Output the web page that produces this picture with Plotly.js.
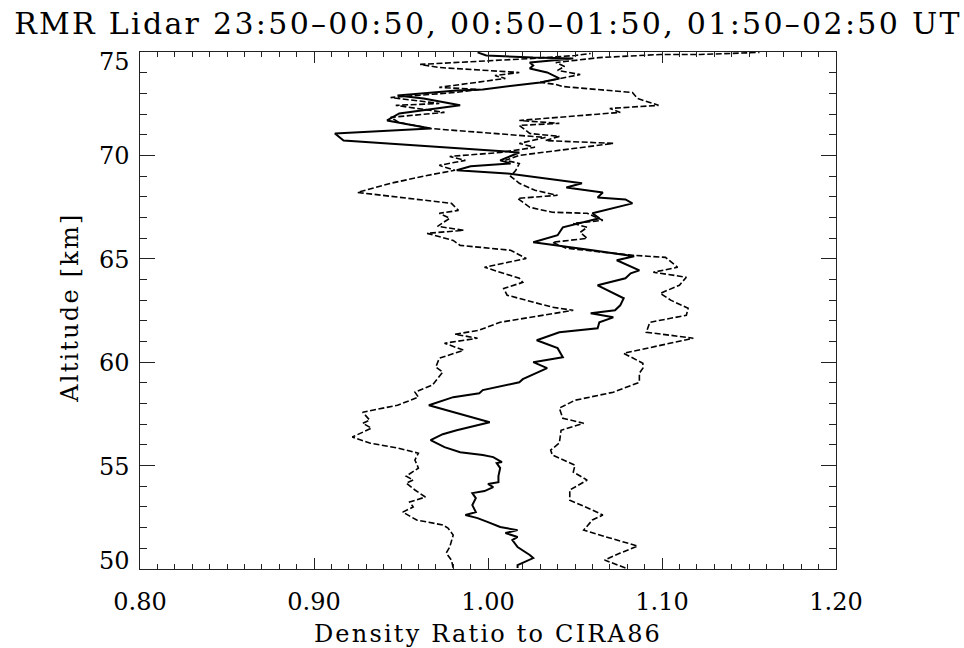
<!DOCTYPE html>
<html>
<head>
<meta charset="utf-8">
<script src="https://cdn.plot.ly/plotly-3.0.1.min.js"></script>
<style>
html,body{margin:0;padding:0;background:#fff;}
.gtitle{letter-spacing:2.3px;}
.xtitle{letter-spacing:2.2px;}
.annotation[data-index="0"] .annotation-text{letter-spacing:2.2px;}
</style>
</head>
<body>
<div id="chart" style="width:964px;height:648px;"></div>
<script>
// Left dashed profile
var valL = [0.980,0.979,0.976,0.978,0.980,0.977,0.974,0.959,0.951,0.957,0.955,0.964,0.958,0.953,0.957,0.953,0.960,0.958,0.960,0.948,0.932,0.922,0.933,0.928,0.932,0.928,0.948,0.955,0.960,0.958,0.968,0.974,0.970,0.972,0.986,0.975,0.994,0.981,0.995,1.007,1.024,1.049,1.037,1.011,1.009,1.020,1.018,0.998,1.022,1.013,0.984,0.980,0.965,0.986,0.971,0.978,0.972,0.983,0.979,0.925,0.944,0.965,0.981,0.972,0.987,0.978,1.007,1.027,1.018,1.033,0.967,0.949,0.944,0.975,0.947,0.972,0.944,0.981,0.995,0.972,1.010,1.004,1.018,0.972,0.961,0.984,1.026,1.050,1.059];
var altL = [50.05,50.43,50.77,51.06,51.64,51.98,52.13,52.37,52.75,53.00,53.24,53.48,53.82,54.15,54.30,54.49,54.88,55.27,55.60,55.85,56.09,56.38,56.81,57.05,57.20,57.58,57.92,58.16,58.31,58.55,58.89,59.52,59.76,60.19,60.58,60.92,61.16,61.35,61.55,61.93,62.17,62.51,62.66,63.24,63.57,63.86,64.06,64.59,65.02,65.41,65.65,65.89,66.23,66.38,66.57,66.96,67.20,67.34,67.68,68.21,68.65,69.03,69.28,69.52,69.76,69.95,70.14,70.39,70.58,70.87,71.30,71.59,71.84,72.08,72.42,72.51,72.80,73.04,73.19,73.29,73.72,73.86,74.01,74.25,74.40,74.49,74.69,74.83,74.93];

// Solid (middle) profile
var valS = [1.017,1.017,1.026,1.024,1.017,1.014,1.017,1.010,1.017,1.007,1.000,0.994,0.987,0.993,0.991,0.993,0.991,0.998,1.003,1.000,1.006,1.006,1.007,1.005,1.008,1.003,0.997,0.984,0.975,0.967,0.974,0.982,1.001,0.966,0.980,0.995,0.997,1.018,1.020,1.034,1.026,1.043,1.040,1.028,1.041,1.063,1.064,1.072,1.059,1.073,1.076,1.078,1.063,1.079,1.082,1.087,1.074,1.084,1.060,1.026,1.040,1.043,1.064,1.060,1.083,1.079,1.063,1.066,1.045,1.054,1.011,0.982,0.990,1.013,1.007,1.018,0.917,0.912,0.967,0.942,0.949,0.984,0.963,0.948,0.982,0.997,1.030,1.041,1.034,1.024,1.026,1.024,1.049,1.026,0.999,0.994];
var altS = [50.05,50.19,50.53,50.68,51.06,51.40,51.55,51.74,51.88,52.03,52.27,52.46,52.61,52.75,53.09,53.43,53.67,53.77,53.96,54.11,54.20,54.49,54.88,55.12,55.17,55.41,55.51,55.65,55.89,56.23,56.52,56.71,57.10,57.92,58.31,58.50,58.65,59.03,59.18,59.71,60.00,60.24,60.68,61.06,61.45,61.64,61.93,62.17,62.37,62.51,62.75,63.09,63.72,64.06,64.30,64.44,64.93,65.12,65.41,65.80,66.14,66.52,66.96,67.20,67.68,67.87,67.97,68.21,68.45,68.65,69.13,69.28,69.47,69.61,69.76,70.14,70.72,71.06,71.30,71.69,72.03,72.42,72.75,72.90,73.14,73.19,73.53,73.72,74.01,74.20,74.35,74.49,74.69,74.73,74.83,74.98];

// Right dashed profile
var valR = [1.079,1.067,1.076,1.086,1.070,1.055,1.060,1.066,1.060,1.047,1.047,1.057,1.049,1.050,1.037,1.036,1.041,1.042,1.055,1.043,1.041,1.050,1.072,1.087,1.087,1.089,1.089,1.078,1.118,1.091,1.093,1.114,1.115,1.105,1.099,1.110,1.114,1.095,1.109,1.102,1.083,1.045,1.037,1.057,1.053,1.057,1.049,1.066,1.057,1.037,1.024,1.017,1.040,1.027,1.018,1.013,1.016,1.018,1.010,1.018,1.072,1.033,1.041,1.024,1.018,1.041,1.018,1.076,1.070,1.098,1.086,1.083,1.043,1.039,1.030,1.041,1.053,1.040,1.044,1.039,1.064,1.099,1.122,1.156];
var altR = [50.05,50.43,50.77,51.11,51.50,51.88,52.37,52.61,52.85,53.33,53.82,54.30,54.69,55.02,55.51,55.75,56.09,56.71,57.05,57.29,57.78,58.16,58.55,59.03,59.47,59.71,59.95,60.43,61.16,61.45,61.93,62.27,62.61,63.00,63.33,63.72,64.11,64.35,64.59,65.07,65.17,65.51,65.80,65.99,66.28,66.52,66.71,66.86,67.20,67.25,67.49,67.92,68.07,68.31,68.65,68.99,69.28,69.61,69.76,70.00,70.58,70.72,70.92,71.06,71.45,71.55,71.69,72.08,72.27,72.42,72.75,73.04,73.33,73.43,73.53,73.72,73.91,74.11,74.30,74.49,74.73,74.88,74.88,74.98];

// Altitude tick labels
var yTickVals = [50, 55, 60, 65, 70, 75];
var yTickText = ['50', '55', '60', '65', '70', '75'];

var titleText = 'RMR Lidar 23:50\u201300:50, 00:50\u201301:50, 01:50\u201302:50 UT';
var xTitle = 'Density Ratio to CIRA86';
var yTitle = 'Altitude [km]';

var traces = [
  {x: valL, y: altL, mode: 'lines', line: {color: 'black', width: 1.6, dash: '6px,2.5px'}},
  {x: valR, y: altR, mode: 'lines', line: {color: 'black', width: 1.6, dash: '6px,2.5px'}},
  {x: valS, y: altS, mode: 'lines', line: {color: 'black', width: 2}}
];

var axisCommon = {
  showline: true, linecolor: '#222', linewidth: 1, mirror: 'ticks',
  ticks: 'inside', tickcolor: '#222', tickwidth: 1,
  showgrid: false, zeroline: false,
  tickfont: {family: 'DejaVu Serif', size: 24, color: 'black'}
};

// Label placement (IDL pulls the end labels inward)
function labelShift(v) {
  if (v === yTickVals[yTickVals.length - 1]) return -10;
  if (v === yTickVals[0]) return 8;
  return -1;
}

var annotations = [{
  text: yTitle, xref: 'paper', yref: 'paper', x: -0.1006, y: 0.5, yshift: 3,
  xanchor: 'center', yanchor: 'middle', textangle: -90, showarrow: false,
  font: {family: 'DejaVu Serif', size: 24, color: 'black'}
}];
yTickVals.forEach(function (v, i) {
  annotations.push({
    text: yTickText[i], xref: 'paper', yref: 'y', x: 0, y: v,
    xanchor: 'right', yanchor: 'middle', xshift: -8, yshift: labelShift(v),
    showarrow: false, font: {family: 'DejaVu Serif', size: 24, color: 'black'}
  });
});

var layout = {
  width: 964, height: 648,
  margin: {l: 140, r: 128, t: 52, b: 79},
  paper_bgcolor: 'white', plot_bgcolor: 'white',
  showlegend: false,
  font: {family: 'DejaVu Serif', color: 'black', size: 24},
  title: {text: titleText, x: 0.5, xanchor: 'center', xref: 'paper', y: 0.964, yanchor: 'middle', yref: 'container',
          font: {family: 'DejaVu Serif', size: 30, color: 'black'}},
  xaxis: Object.assign({}, axisCommon, {
    range: [0.8, 1.2], tick0: 0.8, dtick: 0.1, tickformat: '.2f', ticklen: 11,
    ticklabelstandoff: 11,
    minor: {dtick: 0.01, ticks: 'inside', ticklen: 5, tickcolor: '#222', tickwidth: 1, showgrid: false},
    title: {text: xTitle, font: {family: 'DejaVu Serif', size: 24, color: 'black'}, standoff: 17}
  }),
  yaxis: Object.assign({}, axisCommon, {
    range: [50, 75], tickmode: 'array', tickvals: yTickVals, showticklabels: false, ticklen: 15,
    minor: {dtick: 1, ticks: 'inside', ticklen: 7, tickcolor: '#222', tickwidth: 1, showgrid: false}
  }),
  annotations: annotations
};

Plotly.newPlot('chart', traces, layout, {displayModeBar: false, staticPlot: true});
</script>
</body>
</html>
